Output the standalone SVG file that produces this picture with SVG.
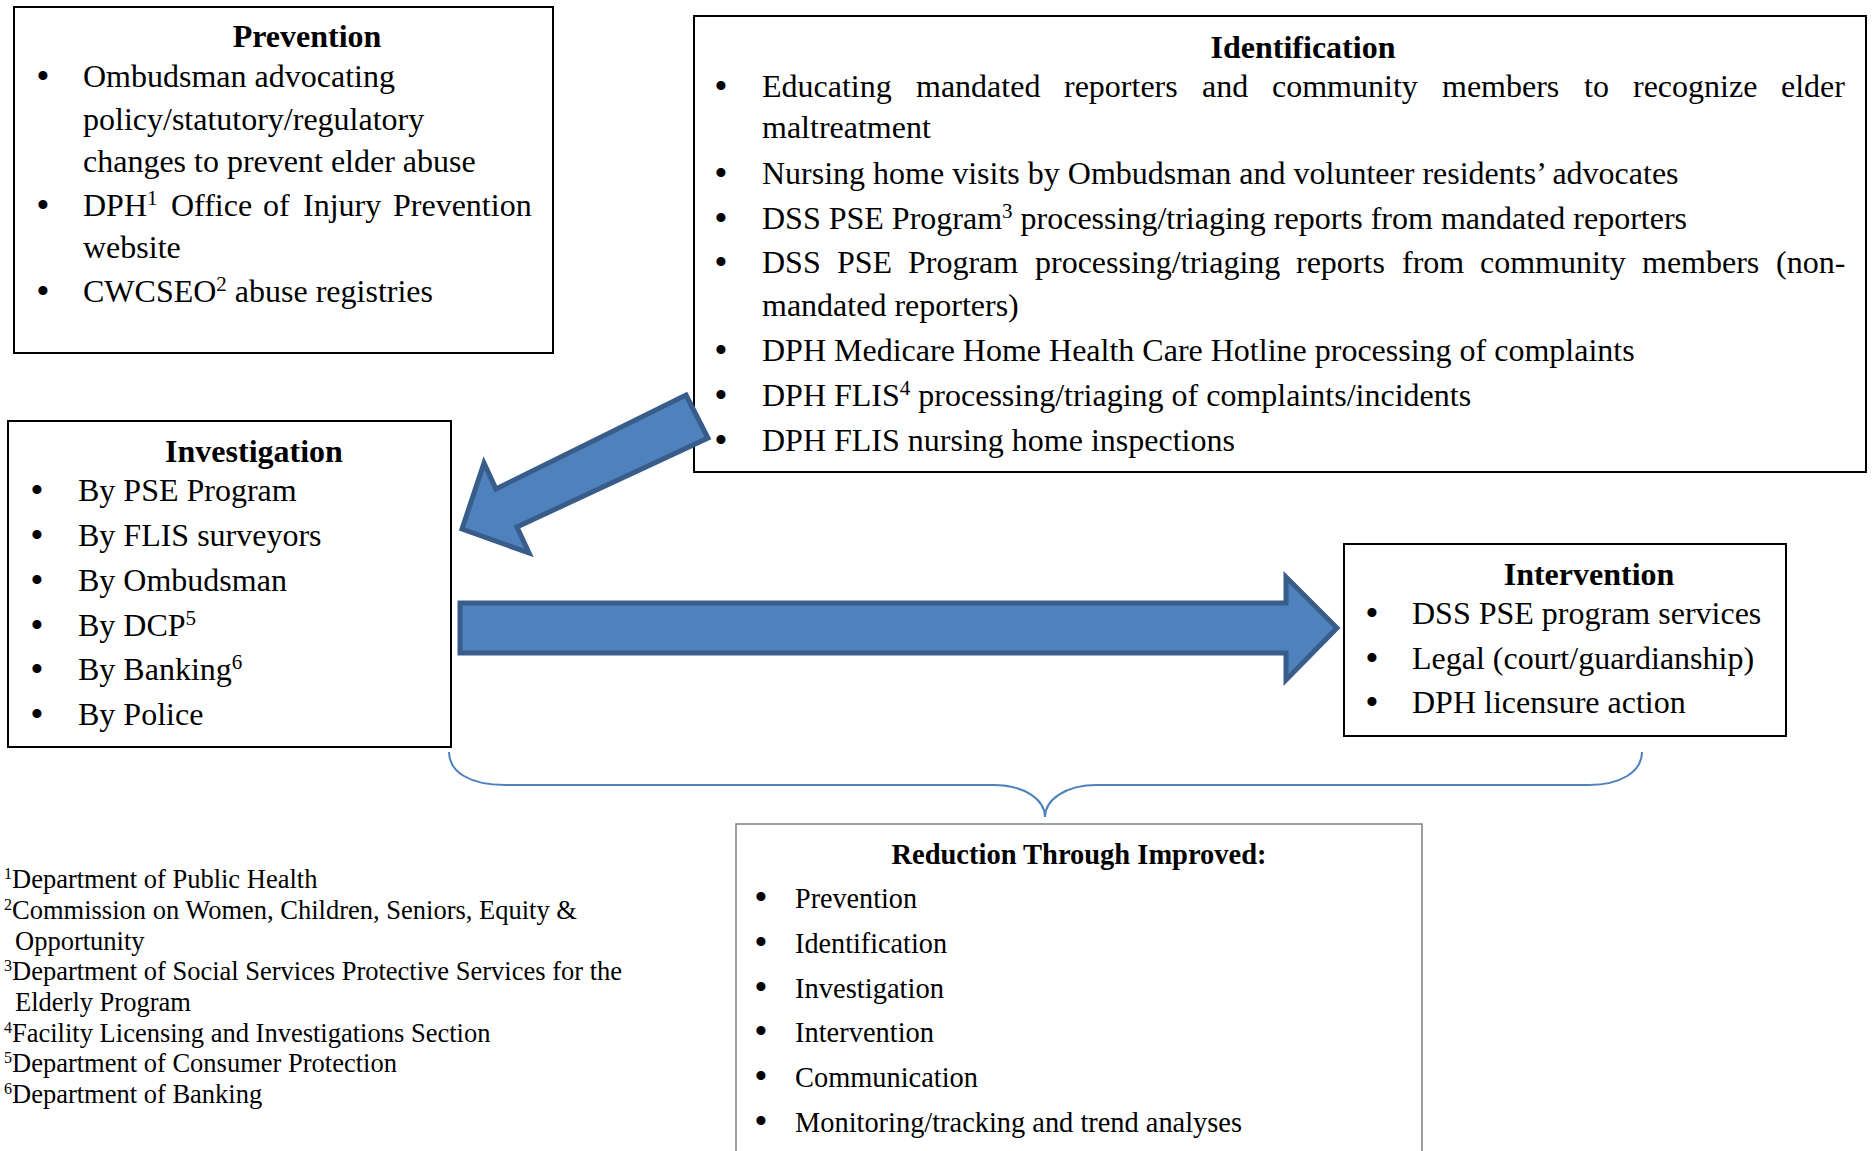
<svg xmlns="http://www.w3.org/2000/svg" width="1872" height="1151" viewBox="0 0 1872 1151">
<style>
text{font-family:"Liberation Serif","Times New Roman",serif;fill:#000}
.t{font-size:32px}
.h{font-size:32px;font-weight:bold;text-anchor:middle}
.b{font-size:38px;text-anchor:middle}
.f{font-size:26.5px}
.fs{font-size:16px}
.r{font-size:30px}
.rh{font-size:30px;font-weight:bold;text-anchor:middle}
.box{fill:#fff;stroke:#000;stroke-width:2}
.rbox{fill:#fff;stroke:#7f7f7f;stroke-width:1.5}
.arrow{fill:#4F81BD;stroke:#385D8A;stroke-width:5;stroke-linejoin:miter}
.brace{fill:none;stroke:#4F81BD;stroke-width:2}
</style>
<rect width="1872" height="1151" fill="#fff"/>

<g id="prevention">
<rect class="box" x="14" y="7" width="539" height="346"/>
<text class="h" x="307" y="47">Prevention</text>
<text class="b" x="43" y="89">•</text>
<text class="t" x="83" y="87">Ombudsman advocating</text>
<text class="t" x="83" y="130">policy/statutory/regulatory</text>
<text class="t" x="83" y="172">changes to prevent elder abuse</text>
<text class="b" x="43" y="218">•</text>
<text class="t" y="216"><tspan x="83">DPH</tspan><tspan font-size="21" dy="-11">1</tspan><tspan x="171" dy="11">Office</tspan><tspan x="263">of</tspan><tspan x="303">Injury</tspan><tspan x="393">Prevention</tspan></text>
<text class="t" x="83" y="258">website</text>
<text class="b" x="43" y="304">•</text>
<text class="t" x="83" y="302">CWCSEO<tspan font-size="21" dy="-11">2</tspan><tspan dy="11"> abuse registries</tspan></text>
</g>

<g id="identification">
<rect class="box" x="694" y="16" width="1172" height="456"/>
<text class="h" x="1303" y="58">Identification</text>
<text class="b" x="721" y="99">•</text>
<text class="t" y="97"><tspan x="762">Educating</tspan><tspan x="916">mandated</tspan><tspan x="1064">reporters</tspan><tspan x="1202">and</tspan><tspan x="1272">community</tspan><tspan x="1442">members</tspan><tspan x="1584">to</tspan><tspan x="1633">recognize</tspan><tspan x="1781">elder</tspan></text>
<text class="t" x="762" y="138">maltreatment</text>
<text class="b" x="721" y="186">•</text>
<text class="t" x="762" y="184">Nursing home visits by Ombudsman and volunteer residents’ advocates</text>
<text class="b" x="721" y="231">•</text>
<text class="t" x="762" y="229">DSS PSE Program<tspan font-size="21" dy="-11">3</tspan><tspan dy="11"> processing/triaging reports from mandated reporters</tspan></text>
<text class="b" x="721" y="275">•</text>
<text class="t" y="273"><tspan x="762">DSS</tspan><tspan x="837">PSE</tspan><tspan x="908">Program</tspan><tspan x="1035">processing/triaging</tspan><tspan x="1296">reports</tspan><tspan x="1402">from</tspan><tspan x="1480">community</tspan><tspan x="1642">members</tspan><tspan x="1776">(non-</tspan></text>
<text class="t" x="762" y="316">mandated reporters)</text>
<text class="b" x="721" y="363">•</text>
<text class="t" x="762" y="361">DPH Medicare Home Health Care Hotline processing of complaints</text>
<text class="b" x="721" y="408">•</text>
<text class="t" x="762" y="406">DPH FLIS<tspan font-size="21" dy="-11">4</tspan><tspan dy="11"> processing/triaging of complaints/incidents</tspan></text>
<text class="b" x="721" y="453">•</text>
<text class="t" x="762" y="451">DPH FLIS nursing home inspections</text>
</g>

<g id="investigation">
<rect class="box" x="8" y="421" width="443" height="326"/>
<text class="h" x="254" y="462">Investigation</text>
<text class="b" x="37" y="503">•</text>
<text class="t" x="78" y="501">By PSE Program</text>
<text class="b" x="37" y="548">•</text>
<text class="t" x="78" y="546">By FLIS surveyors</text>
<text class="b" x="37" y="593">•</text>
<text class="t" x="78" y="591">By Ombudsman</text>
<text class="b" x="37" y="638">•</text>
<text class="t" x="78" y="636">By DCP<tspan font-size="21" dy="-11">5</tspan></text>
<text class="b" x="37" y="682">•</text>
<text class="t" x="78" y="680">By Banking<tspan font-size="21" dy="-11">6</tspan></text>
<text class="b" x="37" y="727">•</text>
<text class="t" x="78" y="725">By Police</text>
</g>

<g id="intervention">
<rect class="box" x="1344" y="544" width="442" height="192"/>
<text class="h" x="1589" y="585">Intervention</text>
<text class="b" x="1372" y="626">•</text>
<text class="t" x="1412" y="624">DSS PSE program services</text>
<text class="b" x="1372" y="671">•</text>
<text class="t" x="1412" y="669">Legal (court/guardianship)</text>
<text class="b" x="1372" y="715">•</text>
<text class="t" x="1412" y="713">DPH licensure action</text>
</g>

<g id="reduction">
<rect class="rbox" x="736" y="824" width="686" height="340"/>
<text class="rh" x="1079" y="864" textLength="375" lengthAdjust="spacingAndGlyphs">Reduction Through Improved:</text>
<text class="b" x="761" y="910">•</text>
<text class="r" x="795" y="908" textLength="122" lengthAdjust="spacingAndGlyphs">Prevention</text>
<text class="b" x="761" y="955">•</text>
<text class="r" x="795" y="953" textLength="152" lengthAdjust="spacingAndGlyphs">Identification</text>
<text class="b" x="761" y="1000">•</text>
<text class="r" x="795" y="998" textLength="149" lengthAdjust="spacingAndGlyphs">Investigation</text>
<text class="b" x="761" y="1044">•</text>
<text class="r" x="795" y="1042" textLength="139" lengthAdjust="spacingAndGlyphs">Intervention</text>
<text class="b" x="761" y="1089">•</text>
<text class="r" x="795" y="1087" textLength="183" lengthAdjust="spacingAndGlyphs">Communication</text>
<text class="b" x="761" y="1134">•</text>
<text class="r" x="795" y="1132" textLength="447" lengthAdjust="spacingAndGlyphs">Monitoring/tracking and trend analyses</text>
</g>

<g id="footnotes">
<text class="f" x="4" y="888"><tspan class="fs" dy="-9">1</tspan><tspan dy="9">Department of Public Health</tspan></text>
<text class="f" x="4" y="919"><tspan class="fs" dy="-9">2</tspan><tspan dy="9">Commission on Women, Children, Seniors, Equity &amp;</tspan></text>
<text class="f" x="15" y="950">Opportunity</text>
<text class="f" x="4" y="980"><tspan class="fs" dy="-9">3</tspan><tspan dy="9">Department of Social Services Protective Services for the</tspan></text>
<text class="f" x="15" y="1011">Elderly Program</text>
<text class="f" x="4" y="1042"><tspan class="fs" dy="-9">4</tspan><tspan dy="9">Facility Licensing and Investigations Section</tspan></text>
<text class="f" x="4" y="1072"><tspan class="fs" dy="-9">5</tspan><tspan dy="9">Department of Consumer Protection</tspan></text>
<text class="f" x="4" y="1103"><tspan class="fs" dy="-9">6</tspan><tspan dy="9">Department of Banking</tspan></text>
</g>

<g id="connectors">
<path class="arrow" d="M686,395 L708,438 L517,527 L529,553 L462,529 L484,463 L496,489 Z"/>
<path class="arrow" d="M460,603 L1286,603 L1286,577 L1337,628 L1286,680 L1286,653 L460,653 Z"/>
<path class="brace" d="M449,752 C449,772 470,785 505,785 L993,785 C1025,785 1045,800 1045,817 C1045,800 1065,785 1097,785 L1589,785 C1620,785 1642,772 1642,752"/>
</g>
</svg>
